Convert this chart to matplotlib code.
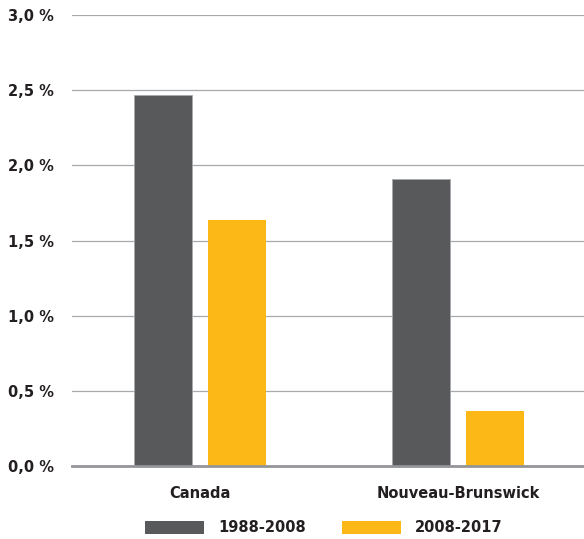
import matplotlib
matplotlib.use("Agg")
import matplotlib.pyplot as plt
import numpy as np
from matplotlib import font_manager

# pick a narrow bold family if one is installed
names = {f.name for f in font_manager.fontManager.ttflist}
fam = "Liberation Sans Narrow" if "Liberation Sans Narrow" in names else "DejaVu Sans"
plt.rcParams['font.family'] = [fam, 'DejaVu Sans']

categories = ["Canada", "Nouveau-Brunswick"]
series = ["1988-2008", "2008-2017"]
values_1988_2008 = [2.47, 1.91]
values_2008_2017 = [1.64, 0.37]
yticks = [0.0, 0.5, 1.0, 1.5, 2.0, 2.5, 3.0]

dark = "#58595b"
yellow = "#fbb817"
txt = "#231f20"
fs = 10.5

fig = plt.figure(figsize=(5.84, 5.39), dpi=100)
ax = fig.add_axes([72/584, (539-466.2)/539, 1 - 72/584, (466.2-15)/539])

x = np.arange(len(categories))
off = 0.1422
w = 0.2248
ax.bar(x - off, values_1988_2008, w, color=dark, edgecolor="#a7a9ac",
       linewidth=0.6, label=series[0], zorder=3)
ax.bar(x + off, values_2008_2017, w, color=yellow, edgecolor="none",
       label=series[1], zorder=3)

ax.set_xlim(-0.496, 1.488)
ax.set_ylim(0, 3.0)
ax.set_yticks(yticks)
ax.set_yticklabels([f"{v:.1f} %".replace(".", ",") for v in yticks],
                   fontsize=fs, fontweight="bold", color=txt)
ax.set_xticks(x)
ax.set_xticklabels(categories, fontsize=fs, fontweight="bold", color=txt)
ax.tick_params(axis="y", length=0, pad=13)
ax.tick_params(axis="x", length=0, pad=14)

ax.grid(axis="y", color="#a7a9ac", linewidth=0.9, zorder=0)
ax.set_axisbelow(True)
for s in ["top", "right", "left"]:
    ax.spines[s].set_visible(False)
ax.spines["bottom"].set_color("#939598")
ax.spines["bottom"].set_linewidth(2.0)
ax.spines["bottom"].set_zorder(4)

leg = fig.legend(loc="center", bbox_to_anchor=(324/584, 1 - 528/539), ncol=2,
                 frameon=False, handlelength=4.0, handleheight=1.05,
                 handletextpad=1.0, columnspacing=2.5,
                 prop={"size": fs, "weight": "bold"})
for t in leg.get_texts():
    t.set_color(txt)
for h in leg.legend_handles:
    h.set_edgecolor("none")

fig.savefig("out.png", dpi=100)
